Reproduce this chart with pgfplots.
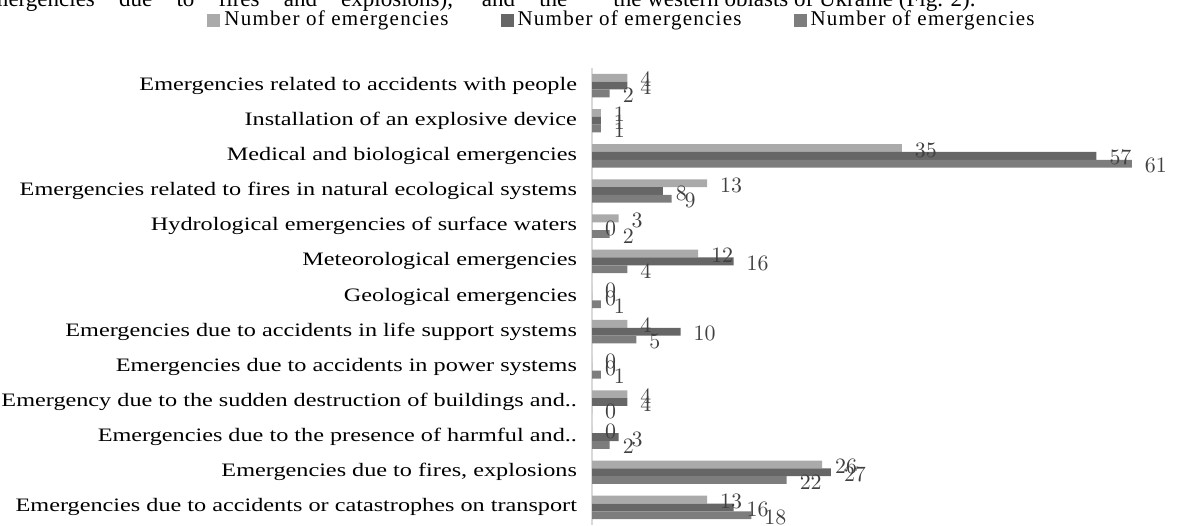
\documentclass[border=0pt]{standalone}
\usepackage{pgfplots}
\pgfplotsset{compat=1.18}
\usepackage{fontspec}
\setmainfont{Liberation Serif}
\newfontfamily\catfont{Liberation Serif}[FakeStretch=1.275]
\newfontfamily\legfont{Liberation Serif}[LetterSpace=6]
\newfontfamily\numfont{Liberation Serif}[LetterSpace=8]
\definecolor{cLight}{RGB}{170,170,170}
\definecolor{cDark}{RGB}{102,102,102}
\definecolor{cMed}{RGB}{125,125,125}
\definecolor{cAxis}{RGB}{217,217,217}
\pgfplotstableread{
y a b c
0 4 4 2
1 1 1 1
2 35 57 61
3 13 8 9
4 3 0 2
5 12 16 4
6 0 0 1
7 4 10 5
8 0 0 1
9 4 4 0
10 0 3 2
11 26 27 22
12 13 16 18
}\datatable
\begin{document}
\begin{tikzpicture}
\clip (0pt,0pt) rectangle (588.5pt,262.5pt);
\node[anchor=base west, inner sep=0pt, font=\fontsize{11.5}{13}\selectfont] at (-10pt,259pt)
  {\makebox[293.5pt][s]{emergencies due to fires and explosions), and the}};
\node[anchor=base west, inner sep=0pt, font=\fontsize{11.5}{13}\selectfont] at (306.5pt,259pt)
  {the western oblasts of Ukraine (Fig. 2).};
\begin{axis}[
  at={(296pt,0pt)}, anchor=south west,
  scale only axis, width=292.5pt, height=228.5pt,
  xbar, bar width=3.9pt,
  xmin=0, xmax=66.1,
  ymin=-0.5, ymax=12.5, y dir=reverse,
  axis y line*=left, axis x line=none,
  y axis line style={draw=cAxis, line width=0.8pt},
  ytick={0,...,12}, major tick length=0pt,
  yticklabels={
    Emergencies related to accidents with people,
    Installation of an explosive device,
    Medical and biological emergencies,
    Emergencies related to fires in natural ecological systems,
    Hydrological emergencies of surface waters,
    Meteorological emergencies,
    Geological emergencies,
    Emergencies due to accidents in life support systems,
    Emergencies due to accidents in power systems,
    Emergency due to the sudden destruction of buildings and..,
    Emergencies due to the presence of harmful and..,
    {Emergencies due to fires, explosions},
    Emergencies due to accidents or catastrophes on transport},
  yticklabel style={font=\catfont\fontsize{9.5}{11}\selectfont, text=black, xshift=-4pt},
  nodes near coords,
  nodes near coords style={font=\numfont\fontsize{11}{12}\selectfont, text=black!75, anchor=west, xshift=3pt, yshift=-1pt},
  clip=false,
  legend columns=3,
  legend style={at={(-0.658,1.105)}, anchor=west, draw=none, fill=none, inner sep=0pt,
    font=\legfont\fontsize{10.5}{12}\selectfont,
    /tikz/every even column/.append style={column sep=24pt}},
  legend image code/.code={\draw[#1, draw=none] (0pt,-3.25pt) rectangle (6.5pt,3.25pt);},
]
\addplot[fill=cLight, draw=none, bar shift=3.9pt] table[x=a, y=y] {\datatable};
\addplot[fill=cDark, draw=none, bar shift=0pt] table[x=b, y=y] {\datatable};
\addplot[fill=cMed, draw=none, bar shift=-3.9pt] table[x=c, y=y] {\datatable};
\legend{Number of emergencies, Number of emergencies, Number of emergencies}
\end{axis}
\end{tikzpicture}
\end{document}
